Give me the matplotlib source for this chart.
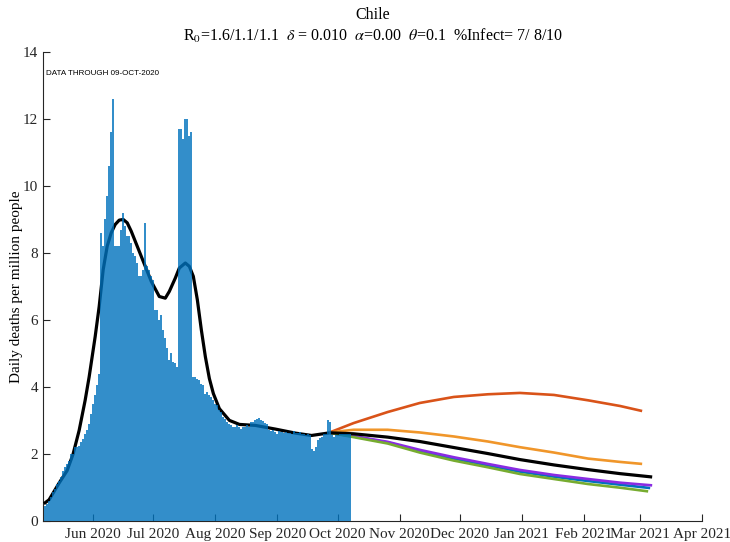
import numpy as np
import matplotlib
matplotlib.use('Agg')
import matplotlib.pyplot as plt
import matplotlib.dates as mdates

plt.rcParams['font.family'] = ['Liberation Serif', 'DejaVu Serif']
plt.rcParams['mathtext.fontset'] = 'stix'

# Daily deaths per million, one bar per day starting 08-May-2020
first_day = np.datetime64('2020-05-08')
daily_deaths = [
    0.43, 0.50, 0.60, 0.70, 0.85, 0.95, 1.10, 1.20, 1.30, 1.50,
    1.60, 1.70, 1.80, 2.00, 2.00, 2.20, 2.20, 2.25, 2.35, 2.45,
    2.60, 2.70, 2.90, 3.20, 3.50, 3.75, 4.05, 4.40, 8.60, 8.20,
    9.00, 9.70, 10.6, 11.6, 12.6, 8.20, 8.20, 8.20, 8.70, 9.20,
    8.80, 8.50, 8.50, 8.30, 8.00, 7.90, 7.70, 7.30, 7.30, 7.50,
    8.90, 7.60, 7.50, 7.30, 7.20, 6.30, 6.30, 6.00, 6.15, 5.70,
    5.45, 5.15, 4.80, 5.00, 4.75, 4.70, 4.60, 11.7, 11.7, 11.4,
    12.0, 12.0, 11.5, 11.6, 4.30, 4.30, 4.25, 4.20, 4.10, 4.05,
    3.80, 3.85, 3.75, 3.70, 3.60, 3.50, 3.45, 3.30, 3.25, 3.10,
    3.05, 2.95, 2.90, 2.85, 2.80, 2.80, 2.85, 2.80, 2.75, 2.80,
    2.80, 2.85, 2.80, 2.95, 2.95, 3.00, 3.05, 3.07, 3.00, 2.97,
    2.93, 2.90, 2.72, 2.68, 2.70, 2.65, 2.60, 2.68, 2.65, 2.62,
    2.65, 2.62, 2.63, 2.60, 2.67, 2.62, 2.62, 2.65, 2.60, 2.60,
    2.55, 2.58, 2.55, 2.15, 2.10, 2.20, 2.40, 2.47, 2.50, 2.60,
    2.60, 3.00, 2.95, 2.55, 2.50, 2.55, 2.55, 2.60, 2.60, 2.60,
    2.60, 2.60, 2.60,
]

# Model fit over the observed period
fit_dates = [
    '2020-05-08', '2020-05-10', '2020-05-15', '2020-05-19', '2020-05-22',
    '2020-05-25', '2020-05-28', '2020-05-30', '2020-06-02', '2020-06-04',
    '2020-06-06', '2020-06-08', '2020-06-10', '2020-06-12', '2020-06-14',
    '2020-06-16', '2020-06-18', '2020-06-20', '2020-06-23', '2020-06-27',
    '2020-06-30', '2020-07-04', '2020-07-07', '2020-07-09', '2020-07-12',
    '2020-07-14', '2020-07-17', '2020-07-19', '2020-07-21', '2020-07-23',
    '2020-07-25', '2020-07-27', '2020-07-29', '2020-07-31', '2020-08-03',
    '2020-08-08', '2020-08-13', '2020-08-21', '2020-08-31', '2020-09-10',
    '2020-09-18', '2020-09-26',
]
fit_values = [
    0.54, 0.63, 1.13, 1.50, 2.00, 2.70, 3.60, 4.30, 5.50, 6.40,
    7.50, 8.20, 8.60, 8.85, 8.98, 9.00, 8.90, 8.65, 8.20, 7.60,
    7.15, 6.70, 6.65, 6.85, 7.25, 7.55, 7.70, 7.60, 7.30, 6.60,
    5.70, 4.90, 4.25, 3.80, 3.35, 3.00, 2.88, 2.85, 2.74, 2.62,
    2.55, 2.62,
]

# Scenario projections (shared dates, last point given per scenario)
proj_dates = [
    '2020-09-27', '2020-10-09', '2020-10-26', '2020-11-11', '2020-11-28',
    '2020-12-15', '2020-12-31', '2021-01-17', '2021-02-03', '2021-02-19',
]
proj_blue = [2.63, 2.52, 2.34, 2.09, 1.86, 1.66, 1.47, 1.32, 1.19, 1.08, 0.98]
proj_red = [2.64, 2.92, 3.25, 3.52, 3.70, 3.78, 3.82, 3.76, 3.60, 3.43, 3.28]
proj_orange = [2.64, 2.72, 2.72, 2.64, 2.52, 2.37, 2.20, 2.04, 1.86, 1.76, 1.70]
proj_purple = [2.63, 2.53, 2.36, 2.12, 1.90, 1.70, 1.52, 1.37, 1.25, 1.14, 1.06]
proj_green = [2.63, 2.50, 2.31, 2.04, 1.80, 1.60, 1.40, 1.25, 1.10, 0.99, 0.88]
proj_black = [2.63, 2.60, 2.50, 2.37, 2.19, 2.01, 1.83, 1.67, 1.53, 1.41, 1.31]
proj_end = {'blue': '2021-03-06', 'red': '2021-03-02', 'orange': '2021-03-02',
            'purple': '2021-03-07', 'green': '2021-03-05', 'black': '2021-03-07'}

country = 'Chile'
subtitle = (r'R$_0$=1.6/1.1/1.1  $\delta$ = 0.010  $\alpha$=0.00  '
            r'$\theta$=0.1  %Infect= 7/ 8/10')
data_note = 'DATA THROUGH 09-OCT-2020'


def to_dates(lst):
    return np.array(lst, dtype='datetime64[D]')


bar_dates = first_day + np.arange(len(daily_deaths))

fig = plt.figure(figsize=(7.3, 5.42), dpi=100)
ax = fig.add_axes([0.059, 0.039, 0.903, 0.865])

# projections
scenarios = [('blue', proj_blue, '#0072BD'), ('red', proj_red, '#D95319'),
             ('orange', proj_orange, '#F0962A'), ('purple', proj_purple, '#8A2BE2'),
             ('green', proj_green, '#77AC30')]
for key, vals, col in scenarios:
    d = to_dates(proj_dates + [proj_end[key]])
    ax.plot(d, vals, color=col, lw=1.9, solid_capstyle='butt', zorder=2)
d = to_dates(proj_dates + [proj_end['black']])
ax.plot(d, proj_black, color='black', lw=2.3, solid_capstyle='butt', zorder=3)

# model fit, partly covered by the translucent bars
ax.plot(to_dates(fit_dates), fit_values, color='black', lw=2.3, zorder=3)

ax.bar(bar_dates, daily_deaths, width=1.0, color='#0072BD', alpha=0.8,
       linewidth=0, antialiased=False, zorder=4)

ax.set_xlim(np.datetime64('2020-05-07'), np.datetime64('2021-04-01'))
ax.set_ylim(0, 14)
ax.set_yticks(np.arange(0, 15, 2))
ax.xaxis.set_major_locator(mdates.MonthLocator())
ax.xaxis.set_major_formatter(mdates.DateFormatter('%b %Y'))

for s in ['top', 'right']:
    ax.spines[s].set_visible(False)
for s in ['left', 'bottom']:
    ax.spines[s].set_color('#262626')
    ax.spines[s].set_linewidth(0.8)
ax.tick_params(direction='in', length=5, width=0.8, colors='#262626',
               labelsize=11, labelcolor='#262626')
ax.tick_params(axis='x', pad=5)

ax.set_ylabel('Daily deaths per million people', fontsize=11, labelpad=0)
ax.set_title(country + '\n' + subtitle, fontsize=11.5, pad=8, linespacing=1.3)
ax.text(0.004, 0.955, data_note, transform=ax.transAxes, fontsize=5.8,
        family=['Liberation Sans', 'DejaVu Sans'], va='center', ha='left')

fig.savefig('out.png', dpi=100)
